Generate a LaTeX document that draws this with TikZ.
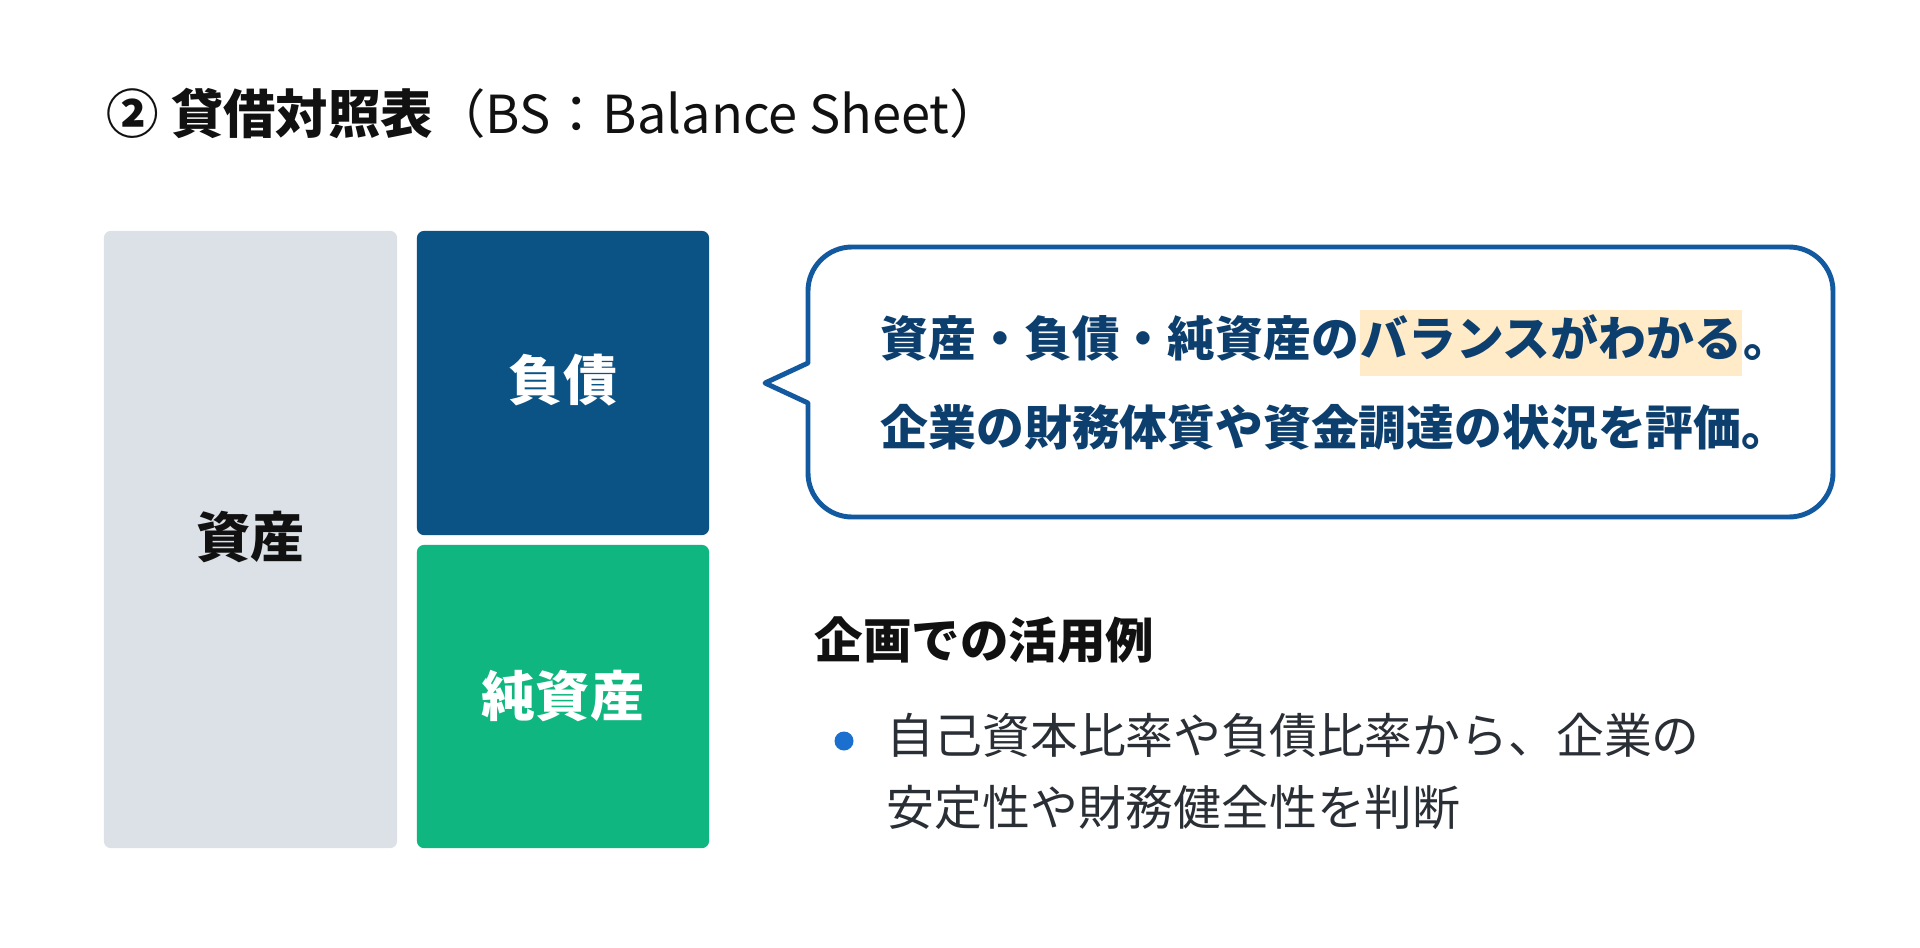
\documentclass[tikz,border=0pt]{standalone}
\usepackage{fontspec}
\setmainfont{Noto Sans CJK JP}
\usetikzlibrary{positioning}
\definecolor{Canvas}{HTML}{FFFFFF}
\definecolor{AssetGray}{HTML}{DCE0E7}
\definecolor{DebtBlue}{HTML}{0B5285}
\definecolor{EquityGreen}{HTML}{10B67F}
\definecolor{BubbleLine}{HTML}{1259A0}
\definecolor{BubbleText}{HTML}{0D3F6E}
\definecolor{Hilite}{HTML}{FFEBC8}
\definecolor{DotBlue}{HTML}{1B6FCF}
\definecolor{Body}{HTML}{2A2E35}
\definecolor{Ink}{HTML}{111111}
\begin{document}
\begin{tikzpicture}[x=0.01cm,y=-0.01cm,jp/.style={inner sep=0pt,text height=0.88em,text depth=0.12em},block/.style={jp,rounded corners=2pt,font=\fontsize{15.4}{18}\selectfont\bfseries},lead/.style={jp,anchor=west,text=BubbleText,font=\fontsize{13.6}{16}\selectfont\bfseries},bodytext/.style={jp,anchor=west,text=Body,font=\fontsize{13.6}{16}\selectfont},bubble/.style={draw=BubbleLine,fill=white,line width=1.4pt,line join=round}]
\fill[Canvas] (0,0) rectangle (1920,948);
\useasboundingbox (0,0) rectangle (1920,948);
% title
\node[jp,anchor=west,text=Ink,font=\fontsize{14.9}{18}\selectfont] (title) at (106,120){{\bfseries ② 貸借対照表}（BS：Balance Sheet）};
% balance sheet blocks
\node[block,fill=AssetGray,text=Ink,minimum width=2.93cm,minimum height=6.17cm] (assets) at (250.5,539.5){\raisebox{-1.2pt}{資産}};
\node[block,fill=DebtBlue,text=white,minimum width=2.92cm,minimum height=3.04cm] (debt) at (563,383){\raisebox{-1.2pt}{負債}};
\node[block,fill=EquityGreen,text=white,minimum width=2.92cm,minimum height=3.03cm] (equity) at (563,696.5){\raisebox{-2pt}{純資産}};
% speech bubble
\draw[bubble] (808,363) [rounded corners=0.44cm] -- (808,247) -- (1833,247) -- (1833,517) -- (808,517) [sharp corners] -- (808,403) -- (765,383) -- cycle;
\node[lead] (bal1) at (880,343){資産・負債・純資産の};
\node[lead,fill=Hilite,minimum height=0.66cm] (bal2) at (bal1.east){バランスがわかる};
\node[lead] (bal3) at (bal2.east){。};
\node[lead] (eval) at (880,432){企業の財務体質や資金調達の状況を評価。};
% usage example
\node[jp,anchor=west,text=Ink,font=\fontsize{13.8}{16}\selectfont\bfseries] (usage) at (814,645){企画での活用例};
\node[circle,fill=DotBlue,minimum size=0.19cm,inner sep=0pt] (dot) at (844,741){};
\node[bodytext] (use1) at (886,740){自己資本比率や負債比率から、企業の};
\node[bodytext] (use2) at (886,812){安定性や財務健全性を判断};
\end{tikzpicture}
\end{document}
